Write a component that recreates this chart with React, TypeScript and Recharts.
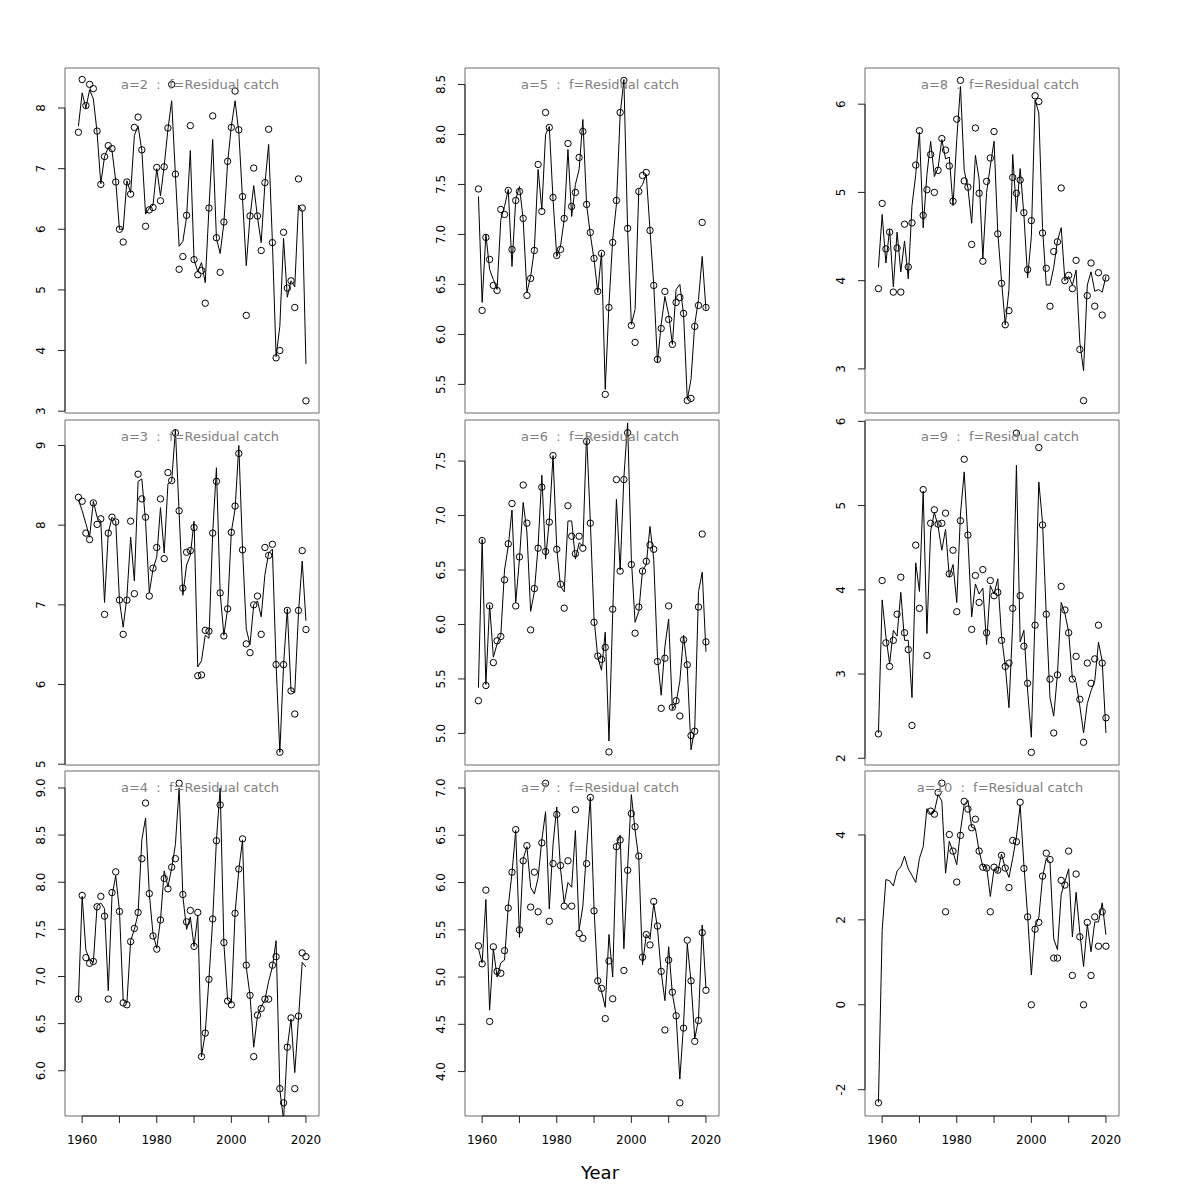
import React from "react";
import {
  ComposedChart,
  Line,
  Scatter,
  XAxis,
  YAxis,
  ReferenceArea,
  ReferenceLine,
} from "recharts";

// survey years
const years = [
  1959, 1960, 1961, 1962, 1963, 1964, 1965, 1966, 1967, 1968,
  1969, 1970, 1971, 1972, 1973, 1974, 1975, 1976, 1977, 1978,
  1979, 1980, 1981, 1982, 1983, 1984, 1985, 1986, 1987, 1988,
  1989, 1990, 1991, 1992, 1993, 1994, 1995, 1996, 1997, 1998,
  1999, 2000, 2001, 2002, 2003, 2004, 2005, 2006, 2007, 2008,
  2009, 2010, 2011, 2012, 2013, 2014, 2015, 2016, 2017, 2018,
  2019, 2020,
];
const xTicks = [1960, 1970, 1980, 1990, 2000, 2010, 2020];

// observed (circles) and fitted (line), one pair per age
const a2Obs = [7.60, 8.47, 8.04, 8.39, 8.32, 7.62, 6.74, 7.20, 7.38, 7.33, 6.78, 6.00, 5.79, 6.78, 6.58, 7.68, 7.85, 7.31, 6.05, 6.32, 6.36, 7.02, 6.47, 7.03, 7.67, 8.39, 6.91, 5.34, 5.55, 6.23, 7.71, 5.50, 5.25, 5.32, 4.78, 6.35, 7.87, 5.86, 5.29, 6.12, 7.12, 7.68, 8.28, 7.64, 6.54, 4.58, 6.22, 7.01, 6.22, 5.65, 6.77, 7.65, 5.78, 3.88, 4.00, 5.95, 5.03, 5.15, 4.71, 6.83, 6.35, 3.17];
const a2Fit = [7.70, 8.25, 8.00, 8.30, 8.15, 7.60, 6.75, 7.20, 7.35, 7.30, 6.80, 6.00, 6.00, 6.80, 6.60, 7.55, 7.70, 7.30, 6.25, 6.35, 6.40, 7.00, 6.55, 7.05, 7.65, 8.12, 6.90, 5.72, 5.80, 6.20, 7.30, 5.50, 5.30, 5.45, 5.12, 6.35, 7.48, 5.85, 5.60, 6.10, 7.10, 7.70, 8.12, 7.60, 6.50, 5.40, 6.20, 6.72, 6.20, 5.78, 6.75, 7.40, 5.80, 3.90, 4.40, 5.85, 4.88, 5.15, 5.05, 6.40, 6.30, 3.78];

const a3Obs = [8.35, 8.30, 7.90, 7.82, 8.28, 8.01, 8.08, 6.88, 7.90, 8.10, 8.04, 7.06, 6.63, 7.06, 8.05, 7.14, 8.64, 8.33, 8.10, 7.11, 7.46, 7.72, 8.33, 7.58, 8.66, 8.56, 9.16, 8.18, 7.21, 7.66, 7.68, 7.97, 6.11, 6.12, 6.68, 6.67, 7.90, 8.55, 7.15, 6.61, 6.95, 7.91, 8.24, 8.90, 7.69, 6.51, 6.40, 7.00, 7.11, 6.63, 7.72, 7.62, 7.76, 6.25, 5.15, 6.25, 6.93, 5.92, 5.63, 6.93, 7.68, 6.69];
const a3Fit = [8.32, 8.18, 8.02, 7.85, 8.30, 8.10, 8.05, 7.03, 7.90, 8.10, 8.05, 7.05, 6.72, 7.10, 7.85, 7.30, 8.55, 8.58, 8.05, 7.15, 7.45, 7.60, 8.22, 7.65, 8.52, 8.55, 9.20, 8.15, 7.12, 7.50, 7.62, 8.05, 6.22, 6.30, 6.62, 6.58, 7.90, 8.72, 7.15, 6.62, 6.95, 7.92, 8.20, 9.00, 7.70, 6.70, 6.50, 7.00, 7.05, 6.85, 7.38, 7.65, 7.70, 6.25, 5.15, 6.25, 6.95, 5.92, 5.90, 6.90, 7.55, 6.80];

const a4Obs = [6.76, 7.86, 7.20, 7.14, 7.16, 7.74, 7.85, 7.64, 6.76, 7.89, 8.11, 7.69, 6.72, 6.70, 7.37, 7.51, 7.68, 8.25, 8.84, 7.88, 7.43, 7.29, 7.60, 8.04, 7.93, 8.16, 8.25, 9.05, 7.87, 7.58, 7.70, 7.32, 7.68, 6.15, 6.40, 6.97, 7.61, 8.44, 8.82, 7.36, 6.74, 6.70, 7.67, 8.14, 8.46, 7.12, 6.80, 6.15, 6.59, 6.66, 6.76, 6.76, 7.12, 7.21, 5.81, 5.66, 6.25, 6.56, 5.81, 6.58, 7.25, 7.21];
const a4Fit = [6.75, 7.85, 7.28, 7.18, 7.15, 7.75, 7.78, 7.72, 6.85, 7.85, 8.07, 7.70, 6.75, 6.72, 7.38, 7.50, 7.67, 8.45, 8.68, 7.88, 7.45, 7.30, 7.60, 8.12, 7.95, 8.15, 8.40, 9.00, 7.85, 7.50, 7.63, 7.32, 7.65, 6.15, 6.40, 6.98, 7.60, 8.45, 9.00, 7.35, 6.75, 6.72, 7.67, 8.13, 8.45, 7.10, 6.80, 6.25, 6.58, 6.68, 6.75, 6.95, 7.10, 7.38, 5.80, 5.48, 6.25, 6.55, 5.98, 6.55, 7.15, 7.10];

const a5Obs = [7.455, 6.24, 6.97, 6.75, 6.49, 6.44, 7.25, 7.20, 7.44, 6.85, 7.34, 7.43, 7.16, 6.39, 6.56, 6.84, 7.70, 7.23, 8.22, 8.07, 7.37, 6.79, 6.85, 7.16, 7.91, 7.28, 7.42, 7.77, 8.03, 7.30, 7.02, 6.76, 6.43, 6.81, 5.40, 6.27, 6.92, 7.34, 8.22, 8.54, 7.06, 6.09, 5.92, 7.43, 7.59, 7.62, 7.04, 6.49, 5.75, 6.06, 6.43, 6.15, 5.90, 6.32, 6.37, 6.21, 5.34, 5.36, 6.08, 6.29, 7.12, 6.27];
const a5Fit = [7.38, 6.32, 7.00, 6.65, 6.55, 6.45, 7.15, 7.28, 7.45, 6.68, 7.35, 7.48, 7.15, 6.42, 6.58, 6.85, 7.65, 7.25, 8.00, 8.08, 7.35, 6.78, 6.88, 7.15, 7.85, 7.18, 7.50, 7.65, 8.15, 7.30, 7.00, 6.75, 6.42, 6.82, 5.45, 6.30, 6.95, 7.30, 8.20, 8.55, 7.05, 6.10, 6.25, 7.45, 7.50, 7.60, 7.05, 6.50, 5.72, 6.10, 6.38, 6.20, 5.90, 6.45, 6.50, 6.20, 5.35, 5.55, 6.10, 6.35, 6.78, 6.25];

const a6Obs = [5.30, 6.77, 5.44, 6.17, 5.65, 5.85, 5.89, 6.41, 6.74, 7.11, 6.17, 6.62, 7.28, 6.93, 5.95, 6.33, 6.70, 7.26, 6.67, 6.94, 7.55, 6.69, 6.37, 6.15, 7.09, 6.81, 6.65, 6.81, 6.70, 7.68, 6.93, 6.02, 5.71, 5.68, 5.79, 4.83, 6.14, 7.33, 6.49, 7.33, 7.76, 6.55, 5.92, 6.16, 6.49, 6.58, 6.73, 6.69, 5.66, 5.23, 5.69, 6.17, 5.24, 5.30, 5.16, 5.86, 5.63, 4.98, 5.02, 6.16, 6.83, 5.84];
const a6Fit = [5.42, 6.78, 5.45, 6.18, 5.70, 5.82, 5.90, 6.50, 6.72, 7.05, 6.20, 6.60, 7.12, 6.85, 6.12, 6.30, 6.72, 7.37, 6.60, 6.95, 7.55, 6.70, 6.35, 6.30, 6.95, 6.95, 6.60, 6.75, 6.72, 7.75, 6.95, 6.05, 5.70, 5.58, 5.93, 4.93, 6.10, 7.15, 6.50, 7.35, 7.85, 6.60, 6.02, 6.12, 6.50, 6.55, 6.90, 6.60, 5.70, 5.35, 5.80, 6.05, 5.22, 5.28, 5.48, 5.90, 5.60, 4.85, 5.05, 6.30, 6.48, 5.75];

const a7Obs = [5.33, 5.14, 5.92, 4.53, 5.32, 5.06, 5.04, 5.28, 5.73, 6.11, 6.56, 5.50, 6.23, 6.39, 5.74, 6.11, 5.69, 6.42, 7.05, 5.59, 6.20, 6.72, 6.18, 5.75, 6.23, 5.75, 6.77, 5.46, 5.41, 6.20, 6.90, 5.70, 4.96, 4.88, 4.56, 5.17, 4.77, 6.38, 6.45, 5.07, 6.13, 6.73, 6.59, 6.28, 5.21, 5.45, 5.34, 5.80, 5.54, 5.06, 4.44, 5.18, 4.84, 4.59, 3.67, 4.46, 5.39, 4.96, 4.32, 4.54, 5.47, 4.86];
const a7Fit = [5.30, 5.15, 5.82, 4.65, 5.30, 5.00, 5.15, 5.18, 5.75, 6.10, 6.55, 5.42, 6.25, 6.38, 5.95, 5.88, 6.05, 6.45, 6.75, 5.72, 6.40, 6.80, 6.15, 5.78, 6.00, 5.95, 6.55, 5.50, 5.75, 6.35, 6.90, 5.72, 4.95, 4.85, 4.68, 5.45, 5.00, 6.40, 6.50, 5.30, 6.15, 6.93, 6.55, 6.25, 5.13, 5.45, 5.40, 5.78, 5.52, 5.05, 4.75, 5.32, 4.82, 4.60, 3.92, 4.50, 5.35, 4.95, 4.35, 4.55, 5.55, 4.88];

const a8Obs = [3.91, 4.875, 4.36, 4.55, 3.87, 4.37, 3.87, 4.64, 4.155, 4.655, 5.31, 5.70, 4.74, 5.03, 5.43, 5.00, 5.25, 5.61, 5.48, 5.30, 4.90, 5.83, 6.27, 5.13, 5.06, 4.41, 5.73, 4.99, 4.22, 5.125, 5.39, 5.69, 4.53, 3.97, 3.50, 3.66, 5.17, 4.99, 5.14, 4.77, 4.125, 4.68, 6.095, 6.03, 4.54, 4.14, 3.71, 4.33, 4.44, 5.05, 4.00, 4.06, 3.91, 4.23, 3.22, 2.64, 3.83, 4.20, 3.71, 4.09, 3.61, 4.03];
const a8Fit = [4.15, 4.75, 4.20, 4.58, 3.93, 4.55, 4.10, 4.45, 4.02, 4.85, 5.20, 5.68, 4.60, 5.20, 5.58, 5.18, 5.28, 5.60, 5.38, 5.40, 4.85, 5.60, 6.20, 5.25, 5.05, 4.65, 5.42, 5.15, 4.25, 5.00, 5.30, 5.58, 4.55, 4.00, 3.50, 3.90, 5.43, 4.78, 5.27, 4.75, 4.03, 4.50, 6.05, 5.90, 4.60, 3.95, 3.95, 4.15, 4.45, 4.60, 4.00, 4.05, 3.95, 4.12, 3.30, 2.98, 3.95, 4.10, 3.88, 3.90, 3.87, 4.05];

const a9Obs = [2.29, 4.11, 3.37, 3.09, 3.40, 3.71, 4.15, 3.49, 3.29, 2.39, 4.53, 3.78, 5.19, 3.22, 4.79, 4.95, 4.78, 4.79, 4.91, 4.19, 4.47, 3.74, 4.82, 5.55, 4.65, 3.53, 4.17, 3.85, 4.24, 3.49, 4.11, 3.93, 3.97, 3.40, 3.09, 3.13, 3.78, 5.86, 3.93, 3.33, 2.89, 2.07, 3.58, 5.69, 4.77, 3.71, 2.94, 2.30, 2.99, 4.04, 3.76, 3.49, 2.94, 3.21, 2.70, 2.19, 3.13, 2.89, 3.18, 3.58, 3.13, 2.48];
const a9Fit = [2.30, 3.88, 3.45, 3.12, 3.52, 3.45, 3.97, 3.40, 3.40, 2.72, 4.32, 3.98, 5.17, 3.48, 4.70, 4.92, 4.75, 4.47, 4.72, 4.15, 4.30, 3.85, 4.90, 5.40, 4.60, 3.68, 4.07, 3.95, 4.02, 3.35, 4.05, 3.95, 4.13, 3.45, 3.10, 2.60, 3.60, 5.48, 3.38, 3.52, 2.80, 2.25, 3.70, 5.28, 4.80, 3.70, 2.72, 2.50, 3.00, 3.85, 3.72, 3.50, 2.95, 2.90, 2.62, 2.30, 2.65, 2.80, 2.92, 3.38, 3.15, 2.30];

// no age-10 catch recorded 1960-1972
const a10Obs = [-2.31, null, null, null, null, null, null, null, null, null, null, null, null, null, 4.56, 4.49, 5.00, 5.22, 2.19, 4.01, 3.62, 2.89, 3.99, 4.79, 4.61, 4.17, 4.37, 3.62, 3.24, 3.22, 2.19, 3.24, 3.17, 3.52, 3.22, 2.76, 3.87, 3.84, 4.77, 3.21, 2.07, 0.00, 1.78, 1.94, 3.03, 3.57, 3.42, 1.10, 1.10, 2.93, 2.82, 3.62, 0.69, 3.08, 1.60, 0.00, 1.94, 0.69, 2.07, 1.38, 2.19, 1.38];
const a10Fit = [-2.30, 1.75, 2.95, 2.92, 2.80, 3.15, 3.25, 3.50, 3.20, 3.05, 2.88, 3.45, 3.72, 4.62, 4.50, 4.55, 4.95, 4.80, 3.10, 3.85, 3.60, 3.30, 4.10, 4.72, 4.82, 4.18, 4.15, 3.62, 3.25, 3.25, 2.55, 3.20, 3.12, 3.55, 3.22, 3.00, 3.45, 3.95, 4.70, 3.30, 2.10, 0.70, 1.85, 2.05, 3.00, 3.45, 3.35, 1.55, 1.30, 2.60, 2.90, 3.20, 1.60, 2.65, 1.70, 0.90, 1.90, 1.25, 1.95, 1.95, 2.40, 1.65];

// y tick labels
const a2Ticks = [3, 4, 5, 6, 7, 8];
const a3Ticks = [5, 6, 7, 8, 9];
const a4Ticks = [6, 6.5, 7, 7.5, 8, 8.5, 9];
const a5Ticks = [5.5, 6, 6.5, 7, 7.5, 8, 8.5];
const a6Ticks = [5, 5.5, 6, 6.5, 7, 7.5];
const a7Ticks = [4, 4.5, 5, 5.5, 6, 6.5, 7];
const a8Ticks = [3, 4, 5, 6];
const a9Ticks = [2, 3, 4, 5, 6];
const a10Ticks = [-2, 0, 2, 4];

const FONT = '"DejaVu Sans", "Liberation Sans", sans-serif';
const BOX_W = 254;
const BOX_H = 345;
const Y_W = 60;
const X_H = 45;
const PAD = 14; // room above/below/right so edge labels are not cut
const colLeft = [65, 465, 865];
const rowTop = [68, 420, 771];
const X_DOMAIN: [number, number] = [1955.4, 2023.5];

const panels = [
  { age: 2, obs: a2Obs, fit: a2Fit, ticks: a2Ticks, domain: [2.97, 8.66], dec: 0, col: 0, row: 0 },
  { age: 3, obs: a3Obs, fit: a3Fit, ticks: a3Ticks, domain: [4.99, 9.32], dec: 0, col: 0, row: 1 },
  { age: 4, obs: a4Obs, fit: a4Fit, ticks: a4Ticks, domain: [5.52, 9.18], dec: 1, col: 0, row: 2 },
  { age: 5, obs: a5Obs, fit: a5Fit, ticks: a5Ticks, domain: [5.214, 8.665], dec: 1, col: 1, row: 0 },
  { age: 6, obs: a6Obs, fit: a6Fit, ticks: a6Ticks, domain: [4.71, 7.877], dec: 1, col: 1, row: 1 },
  { age: 7, obs: a7Obs, fit: a7Fit, ticks: a7Ticks, domain: [3.53, 7.18], dec: 1, col: 1, row: 2 },
  { age: 8, obs: a8Obs, fit: a8Fit, ticks: a8Ticks, domain: [2.5, 6.41], dec: 0, col: 2, row: 0 },
  { age: 9, obs: a9Obs, fit: a9Fit, ticks: a9Ticks, domain: [1.92, 6.016], dec: 0, col: 2, row: 1 },
  { age: 10, obs: a10Obs, fit: a10Fit, ticks: a10Ticks, domain: [-2.62, 5.506], dec: 0, col: 2, row: 2 },
];

const Ring = (props: any) => (
  <circle cx={props.cx} cy={props.cy} r={3.2} fill="none" stroke="#000" strokeWidth={1} />
);

function Panel({ p }: { p: (typeof panels)[number] }) {
  const bottom = p.row === 2;
  const w = Y_W + BOX_W + PAD * 2;
  const h = PAD + BOX_H + (bottom ? X_H : PAD);
  const rows = years.map((year, i) => ({ year, obs: p.obs[i], fit: p.fit[i] }));
  const pts = rows.filter((r) => r.obs !== null);
  const yDomain = p.domain as [number, number];

  const yTick = (props: any) => {
    const cx = Y_W - 24;
    const v = props.payload.value;
    return (
      <text
        x={cx}
        y={props.y}
        transform={`rotate(-90 ${cx} ${props.y})`}
        textAnchor="middle"
        dominantBaseline="central"
        fontSize={12}
        fontFamily={FONT}
        fill="#000"
      >
        {p.dec ? v.toFixed(1) : String(v)}
      </text>
    );
  };

  const xTick = (props: any) => {
    const v = props.payload.value;
    if (v % 20 !== 0) return <g />;
    return (
      <text
        x={props.x}
        y={PAD + BOX_H + 24}
        textAnchor="middle"
        dominantBaseline="central"
        fontSize={12}
        fontFamily={FONT}
        fill="#000"
      >
        {v}
      </text>
    );
  };

  return (
    <div
      style={{
        position: "absolute",
        left: colLeft[p.col] - Y_W,
        top: rowTop[p.row] - PAD,
        width: w,
        height: h,
      }}
    >
      <ComposedChart
        width={w}
        height={h}
        data={rows}
        margin={{ top: PAD, right: PAD * 2, bottom: bottom ? 0 : PAD, left: 0 }}
      >
        <XAxis
          dataKey="year"
          type="number"
          domain={X_DOMAIN}
          allowDataOverflow
          ticks={xTicks}
          hide={!bottom}
          height={X_H}
          axisLine={false}
          tickSize={7}
          stroke="#222"
          tick={xTick}
          interval={0}
        />
        <YAxis
          type="number"
          domain={yDomain}
          allowDataOverflow
          ticks={p.ticks}
          width={Y_W}
          axisLine={false}
          tickSize={7}
          stroke="#222"
          tick={yTick}
          interval={0}
        />
        <ReferenceArea
          x1={X_DOMAIN[0]}
          x2={X_DOMAIN[1]}
          y1={yDomain[0]}
          y2={yDomain[1]}
          fill="none"
          stroke="#6a6a6a"
          strokeWidth={1}
          ifOverflow="visible"
        />
        <ReferenceLine
          segment={[
            { x: X_DOMAIN[0], y: p.ticks[0] },
            { x: X_DOMAIN[0], y: p.ticks[p.ticks.length - 1] },
          ]}
          stroke="#222"
          ifOverflow="visible"
        />
        {bottom && (
          <ReferenceLine
            segment={[
              { x: xTicks[0], y: yDomain[0] },
              { x: xTicks[xTicks.length - 1], y: yDomain[0] },
            ]}
            stroke="#222"
            ifOverflow="visible"
          />
        )}
        <Line
          type="linear"
          dataKey="fit"
          stroke="#000"
          strokeWidth={1}
          dot={false}
          activeDot={false}
          isAnimationActive={false}
        />
        <Scatter data={pts} dataKey="obs" shape={Ring} isAnimationActive={false} />
      </ComposedChart>
      <div
        style={{
          position: "absolute",
          left: Y_W + 135,
          top: PAD + 16,
          transform: "translate(-50%, -50%)",
          fontFamily: FONT,
          fontSize: 13,
          color: "#808080",
          whiteSpace: "pre",
          pointerEvents: "none",
        }}
      >
        {`a=${p.age}  :  f=Residual catch`}
      </div>
    </div>
  );
}

export default function App() {
  return (
    <div
      style={{
        position: "absolute",
        left: 0,
        top: 0,
        width: 1200,
        height: 1200,
        background: "#fff",
      }}
    >
      {panels.map((p) => (
        <Panel key={p.age} p={p} />
      ))}
      <div
        style={{
          position: "absolute",
          left: 600,
          top: 1172,
          transform: "translate(-50%, -50%)",
          fontFamily: FONT,
          fontSize: 18,
          color: "#000",
        }}
      >
        Year
      </div>
    </div>
  );
}
